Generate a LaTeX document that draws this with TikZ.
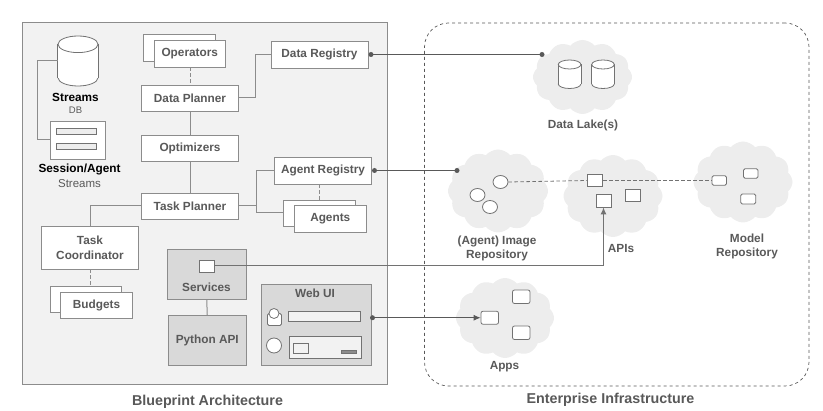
\documentclass[tikz,border=0pt]{standalone}
\usepackage{fontspec}
\setmainfont{Liberation Sans}
\usetikzlibrary{shapes.geometric,shapes.symbols,arrows.meta}
\definecolor{linegray}{HTML}{8C8C8C}
\definecolor{textgray}{HTML}{595959}
\tikzset{
  box/.style={draw=linegray, line width=0.9pt, fill=white, text=textgray, font=\fontsize{11.8}{14.5}\selectfont\bfseries, align=center, inner sep=0pt},
  dimbox/.style={box, fill=black!15},
  mini/.style={draw=textgray!85, line width=0.8pt, fill=white, inner sep=0pt},
  blob/.style={cloud, cloud puffs=12, cloud puff arc=100, aspect=1.2, fill=black!7, inner sep=0pt},
  lbl/.style={text=textgray, font=\fontsize{11.8}{14.5}\selectfont\bfseries, align=center, inner sep=0pt},
  biglbl/.style={text=textgray, font=\fontsize{14.3}{17}\selectfont\bfseries, inner sep=0pt},
  link/.style={draw=linegray, line width=1pt},
  dashlink/.style={draw=linegray, line width=0.8pt, dash pattern=on 3.5pt off 2.5pt},
  wire/.style={draw=textgray, line width=0.8pt},
  tip/.style={circle, fill=textgray, inner sep=0pt, minimum size=5pt},
}
\newcommand{\boxat}[6][box]{\node[#1, minimum width=#4pt, minimum height=#5pt] (#2) at (#3) {#6};}
% name, centre, bottom centre, top centre, width, body height, ellipse height
\newcommand{\drum}[7]{
  \node[mini, ellipse, minimum width=#5pt, minimum height=#7pt] (#1bot) at (#3) {};
  \node[fill=white, inner sep=0pt, minimum width=#5pt, minimum height=#6pt] (#1) at (#2) {};
  \draw[draw=textgray!85, line width=0.8pt] (#1.north west) -- (#1.south west) (#1.north east) -- (#1.south east);
  \node[mini, ellipse, minimum width=#5pt, minimum height=#7pt] (#1top) at (#4) {};
}
\begin{document}
\begin{tikzpicture}[x=1pt, y=-1pt]
\useasboundingbox (0,0) rectangle (823,411);

\node[draw=linegray, line width=1pt, fill=black!5, minimum width=364.5pt, minimum height=362pt, inner sep=0pt] (blueprint) at (204.75,204) {};
\node[draw=textgray, line width=0.7pt, dashed, rounded corners=24pt, minimum width=384.5pt, minimum height=363pt, inner sep=0pt] (enterprise) at (616.75,204.5) {};
\node[biglbl] (blueprintlbl) at (207.5,401.5) {Blueprint Architecture};
\node[biglbl] (enterpriselbl) at (610.5,400) {Enterprise Infrastructure};

% clouds
\node[blob, minimum width=99pt, minimum height=74pt] (lakecloud) at (582.5,77) {};
\node[blob, minimum width=100pt, minimum height=83pt] (imagecloud) at (498,191) {};
\node[blob, minimum width=99pt, minimum height=82pt] (apicloud) at (613,196) {};
\node[blob, minimum width=99pt, minimum height=81pt] (modelcloud) at (743,182) {};
\node[blob, minimum width=98pt, minimum height=80pt] (appcloud) at (505,318) {};

% streams
\drum{streamsdb}{78,61}{78,77.7}{78,44.3}{40}{33.4}{16.6}
\node[lbl, text=black] (streamslbl) at (75.5,97.5) {Streams};
\node[lbl, font=\fontsize{9.5}{11}\selectfont] (dblbl) at (75.5,110) {DB};
\boxat{session}{77.75,140}{55.5}{38}{}
\node[mini, minimum width=40.5pt, minimum height=6pt, fill=black!7] (bartop) at (76.25,131.5) {};
\node[mini, minimum width=40.5pt, minimum height=6pt, fill=black!7] (barbot) at (76.25,146) {};
\node[lbl, text=black] (sessionlbl) at (79.5,169) {Session/Agent};
\node[lbl, font=\fontsize{11.5}{14}\selectfont] (sessionlbl2) at (79.5,184) {Streams};

% planners
\boxat{opback}{179.25,47.75}{71.5}{26.5}{}
\boxat{operators}{189.75,53.75}{71.5}{26.5}{Operators}
\boxat{dataplanner}{190,98}{97}{26}{Data Planner}
\boxat{optimizers}{190,148.25}{97}{26.5}{Optimizers}
\boxat{taskplanner}{190,206}{97}{26}{Task Planner}
\boxat{dataregistry}{319.5,54.75}{97}{26.5}{Data Registry}
\boxat{agentregistry}{323,170.75}{97}{26.5}{Agent Registry}
\boxat{agback}{319.25,213}{71.5}{26}{}
\boxat{agents}{330.25,218.75}{71.5}{26.5}{Agents}
\boxat{taskcoord}{90,247.75}{97}{42.5}{Task\\Coordinator}
\boxat{budback}{85.75,299}{71.5}{26}{}
\boxat{budgets}{96.5,305}{72}{26}{Budgets}

% services
\boxat[dimbox]{services}{206.75,274.25}{78.5}{49.5}{}
\node[lbl] (serviceslbl) at (206.5,287) {Services};
\node[mini, minimum width=15pt, minimum height=12pt] (svcport) at (207,266) {};
\boxat[dimbox]{pythonapi}{207.25,340.25}{78.5}{49.5}{Python API}

% web ui
\boxat[dimbox]{webui}{316.5,324.75}{110}{81.5}{}
\node[lbl] (webuilbl) at (315,293.5) {Web UI};
\node[mini, rounded corners=1.5pt, minimum width=14pt, minimum height=12pt] (userbody) at (274.5,319.5) {};
\node[mini, circle, minimum size=10pt] (userhead) at (274,313.5) {};
\node[mini, minimum width=72pt, minimum height=10pt, fill=black!5] (urlbar) at (324,316) {};
\node[mini, circle, minimum size=15pt] (usericon) at (274,345.5) {};
\node[mini, minimum width=71.5pt, minimum height=21.5pt, fill=black!5] (panel) at (325.25,347.25) {};
\node[mini, minimum width=15pt, minimum height=10pt, fill=black!5] (panelbox) at (300.5,348.5) {};
\node[mini, minimum width=15pt, minimum height=3pt, fill=linegray] (panelbar) at (348.5,351.5) {};

% cloud contents
\drum{lakeone}{569.6,74.2}{569.6,84}{569.6,64.5}{22.6}{19.5}{9}
\drum{laketwo}{603,74.2}{603,84}{603,64.5}{22.6}{19.5}{9}
\node[lbl] (lakelbl) at (583,125) {Data Lake(s)};

\node[mini, ellipse, minimum width=15pt, minimum height=13pt] (imgone) at (500.5,182) {};
\node[mini, ellipse, minimum width=15pt, minimum height=13pt] (imgtwo) at (477.5,195) {};
\node[mini, ellipse, minimum width=15pt, minimum height=13pt] (imgthree) at (490,207) {};
\node[lbl] (imagelbl) at (497,248.5) {(Agent) Image\\Repository};

\node[mini, minimum width=15.5pt, minimum height=12.5pt] (apione) at (595,180.5) {};
\node[mini, minimum width=15pt, minimum height=13pt] (apitwo) at (603.5,200.5) {};
\node[mini, minimum width=15pt, minimum height=12.5pt] (apithree) at (633,195.25) {};
\node[lbl] (apilbl) at (621,249) {APIs};

\node[mini, rounded corners=1.5pt, minimum width=14.5pt, minimum height=9.5pt] (modelone) at (719.25,180.5) {};
\node[mini, rounded corners=1.5pt, minimum width=14.5pt, minimum height=9.5pt] (modeltwo) at (750.75,173.5) {};
\node[mini, rounded corners=1.5pt, minimum width=15pt, minimum height=10pt] (modelthree) at (748.25,199) {};
\node[lbl] (modellbl) at (747,246.5) {Model\\Repository};

\node[mini, rounded corners=2pt, minimum width=17.5pt, minimum height=13pt] (appone) at (489.75,317.75) {};
\node[mini, rounded corners=2pt, minimum width=17.5pt, minimum height=13.5pt] (apptwo) at (521.25,296.75) {};
\node[mini, rounded corners=2pt, minimum width=17.5pt, minimum height=13.5pt] (appthree) at (521.25,332.75) {};
\node[lbl] (applbl) at (504.5,366.5) {Apps};

% connectors
\draw[link] (streamsdb.west) -- ++(-20,0) |- (session.west);
\draw[dashlink] (operators.south -| dataplanner) -- (dataplanner.north);
\draw[link] (dataplanner) -- (optimizers);
\draw[link] (optimizers) -- (taskplanner);
\draw[link] (dataplanner.east) -- ++(16.5,0) |- (dataregistry.west);
\draw[link] (taskplanner.east) -- ++(17.5,0) |- (agentregistry.west);
\draw[link] (taskplanner.east) -- ++(17.5,0) |- (agback.west);
\draw[dashlink] (agback.north |- agentregistry.south) -- (agback.north);
\draw[link] (taskplanner.west) -| (taskcoord.north);
\draw[dashlink] (taskcoord.south) -- (taskcoord.south |- budback.north);
\draw[link] (services.south) -- (pythonapi.north);

\coordinate (regdot) at (371,54.5);
\coordinate (lakedot) at (542,54.5);
\draw[wire] (regdot) -- (lakedot);
\node[tip] (regtip) at (regdot) {};
\node[tip] (laketip) at (lakedot) {};
\coordinate (agdot) at (374.5,170.5);
\coordinate (imgdot) at (457,170.5);
\draw[wire] (agdot) -- (imgdot);
\node[tip] (agtip) at (agdot) {};
\node[tip] (imgtip) at (imgdot) {};

\draw[dashlink, draw=textgray!85] (imgone.east) -- (apione.west);
\draw[dashlink, draw=textgray!85] (apione.east) -- (modelone.west);
\draw[link, -{Latex[length=7pt,width=6pt]}, draw=textgray!85] (svcport.east) -| (apitwo.south);
\coordinate (uidot) at (372.5,317.75);
\node[tip] (uitip) at (uidot) {};
\draw[wire, -{Latex[length=7pt,width=6pt]}] (uidot) -- (appone.west);
\end{tikzpicture}
\end{document}
